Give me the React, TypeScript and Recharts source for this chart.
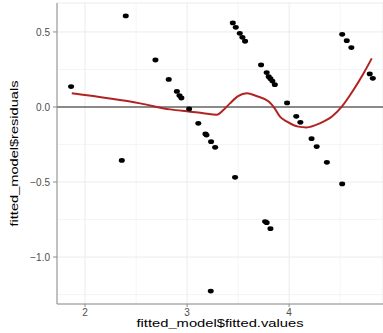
import { ComposedChart, Scatter, Line, XAxis, YAxis, CartesianGrid, ReferenceLine } from 'recharts';

// fitted values / residuals
const fitted = [
  1.863, 2.399, 2.36, 2.69, 2.82, 2.9, 2.925, 2.944, 3.02, 3.11, 3.18, 3.19, 3.235, 3.275, 3.232,
  3.448, 3.477, 3.516, 3.542, 3.568, 3.47, 3.725, 3.765, 3.78, 3.78, 3.8, 3.817, 3.836, 3.86, 3.817,
  3.98, 4.07, 4.11, 4.22, 4.27, 4.37, 4.52, 4.565, 4.61, 4.52, 4.79, 4.82,
];
const residuals = [
  0.136, 0.607, -0.356, 0.313, 0.184, 0.104, 0.076, 0.06, -0.013, -0.109, -0.18, -0.187, -0.231, -0.269, -1.227,
  0.56, 0.531, 0.491, 0.464, 0.438, -0.469, 0.28, -0.764, -0.771, 0.229, 0.202, 0.189, 0.173, 0.149, -0.811,
  0.027, -0.062, -0.102, -0.211, -0.264, -0.369, 0.484, 0.442, 0.396, -0.513, 0.22, 0.191,
];

// loess smoother
const smoothX = [1.87, 2.54, 2.833, 3.03, 3.16, 3.29, 3.356, 3.42, 3.5, 3.585, 3.68, 3.8, 3.846, 3.91, 3.98, 4.09, 4.17, 4.3, 4.42, 4.516, 4.63, 4.73, 4.81];
const smoothY = [0.091, 0.024, -0.016, -0.031, -0.042, -0.051, -0.02, 0.024, 0.073, 0.091, 0.073, 0.036, 0.002, -0.064, -0.098, -0.131, -0.136, -0.109, -0.064, 0.002, 0.113, 0.225, 0.324];

const xTicks = [2, 3, 4];
const yTicks = [-1, -0.5, 0, 0.5];
const xMinor = [2.5, 3.5, 4.5];
const yMinor = [-1.25, -0.75, -0.25, 0.25];

const points = fitted.map((x, i) => ({ x, y: residuals[i] }));
const smooth = smoothX.map((x, i) => ({ x, y: smoothY[i] }));

const FONT = '"Liberation Sans", Arial, sans-serif';

const fmtY = (v: number) => (v < 0 ? '\u2212' : '') + Math.abs(v).toFixed(1);

const Dot = (p: any) => <ellipse cx={p.cx} cy={p.cy} rx={3} ry={2.4} fill="#000" />;

const XTitle = ({ viewBox }: any) => (
  <text x={viewBox.x + viewBox.width / 2} y={327} textAnchor="middle" fontSize={11} fill="#000"
    textLength={167} lengthAdjust="spacingAndGlyphs" style={{ fontFamily: FONT }}>
    fitted_model$fitted.values
  </text>
);

const YTitle = ({ viewBox }: any) => {
  const cy = viewBox.y + viewBox.height / 2;
  return (
    <text x={18} y={cy} transform={`rotate(-90 18 ${cy})`} textAnchor="middle" fontSize={11} fill="#000"
      textLength={146} lengthAdjust="spacingAndGlyphs" style={{ fontFamily: FONT }}>
      fitted_model$residuals
    </text>
  );
};

export default function App() {
  return (
    <div style={{ position: 'absolute', left: 0, top: 0, background: '#fff' }}>
      <ComposedChart width={383} height={333} margin={{ top: 3, right: 0, left: 0, bottom: 0 }} style={{ fontFamily: FONT }}>
        <CartesianGrid stroke="#EBEBEB" strokeWidth={1} />
        {xMinor.map((v) => (
          <ReferenceLine key={'vx' + v} x={v} stroke="#EFEFEF" strokeWidth={0.7} />
        ))}
        {yMinor.map((v) => (
          <ReferenceLine key={'hy' + v} y={v} stroke="#EFEFEF" strokeWidth={0.7} />
        ))}
        <XAxis dataKey="x" type="number" domain={[1.725, 4.92]} ticks={xTicks} allowDataOverflow
          height={29} tickSize={3} tickMargin={2} stroke="#8C8C8C"
          tick={{ fill: '#4D4D4D', fontSize: 10 }} label={<XTitle />} />
        <XAxis xAxisId="top" orientation="top" type="number" domain={[1.725, 4.92]} height={0}
          tick={false} tickLine={false} axisLine={{ stroke: '#C8C8C8' }} />
        <YAxis type="number" domain={[-1.313, 0.693]} ticks={yTicks} allowDataOverflow width={57}
          tickSize={4} tickMargin={3} tickFormatter={fmtY} stroke="#8C8C8C"
          tick={{ fill: '#4D4D4D', fontSize: 10 }} label={<YTitle />} />
        <ReferenceLine y={0} stroke="#666666" strokeWidth={1.5} />
        <Scatter data={points} dataKey="y" shape={Dot} isAnimationActive={false} />
        <Line data={smooth} dataKey="y" type="monotone" stroke="#B22222" strokeWidth={2} dot={false} isAnimationActive={false} />
      </ComposedChart>
    </div>
  );
}
